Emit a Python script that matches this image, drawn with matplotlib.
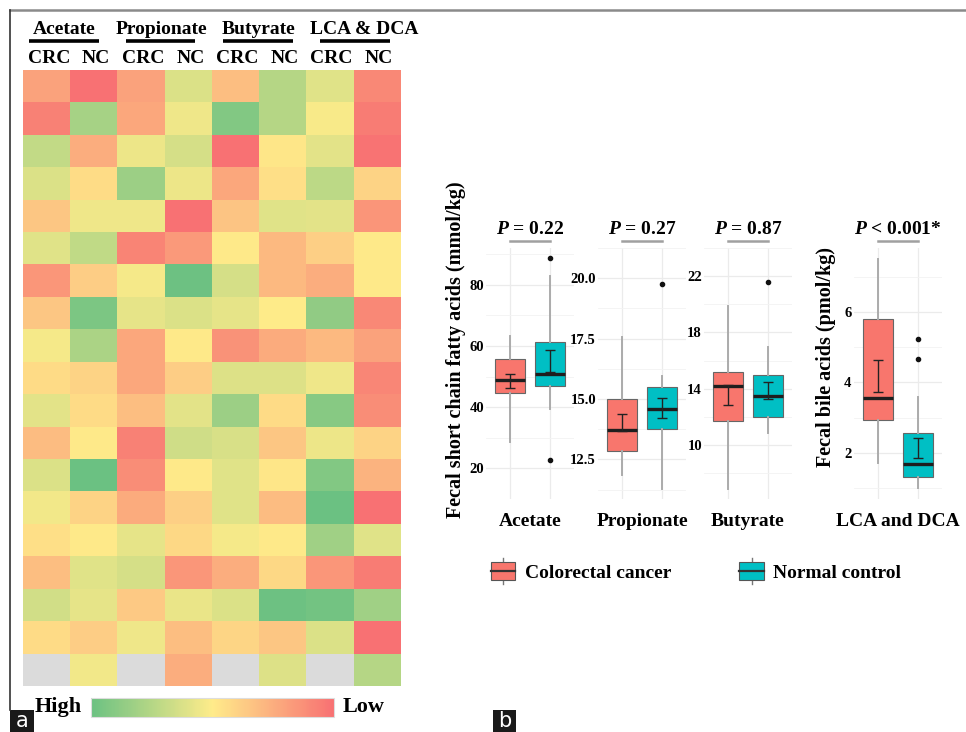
import numpy as np
import matplotlib
matplotlib.use('Agg')
import matplotlib.pyplot as plt
from matplotlib.colors import LinearSegmentedColormap
from matplotlib.lines import Line2D
from matplotlib.patches import Rectangle, Patch
from matplotlib.legend_handler import HandlerBase
from matplotlib.cm import ScalarMappable

plt.rcParams['font.family'] = 'Liberation Serif'
plt.rcParams['font.weight'] = 'bold'
plt.rcParams['mathtext.fontset'] = 'custom'
plt.rcParams['mathtext.it'] = 'Liberation Serif:italic:bold'
plt.rcParams['mathtext.rm'] = 'Liberation Serif:bold'

# ---- panel a: heatmap (0 = high / green, 1 = low / red, nan = missing)
heat_groups = ['Acetate', 'Propionate', 'Butyrate', 'LCA & DCA']
heat_cols = ['CRC', 'NC', 'CRC', 'NC', 'CRC', 'NC', 'CRC', 'NC']
nan = np.nan
heat_values = [
    [0.80, 1.00, 0.80, 0.38, 0.68, 0.25, 0.40, 0.90],
    [0.93, 0.20, 0.78, 0.45, 0.08, 0.25, 0.48, 0.95],
    [0.30, 0.75, 0.44, 0.36, 1.00, 0.52, 0.41, 0.99],
    [0.38, 0.56, 0.17, 0.44, 0.78, 0.55, 0.28, 0.60],
    [0.65, 0.45, 0.45, 1.00, 0.66, 0.40, 0.41, 0.85],
    [0.40, 0.29, 0.92, 0.83, 0.51, 0.70, 0.61, 0.51],
    [0.84, 0.62, 0.47, 0.01, 0.36, 0.70, 0.75, 0.51],
    [0.65, 0.06, 0.42, 0.38, 0.42, 0.50, 0.13, 0.90],
    [0.47, 0.22, 0.78, 0.51, 0.86, 0.76, 0.70, 0.80],
    [0.57, 0.60, 0.78, 0.62, 0.39, 0.39, 0.45, 0.91],
    [0.41, 0.57, 0.68, 0.41, 0.17, 0.57, 0.10, 0.88],
    [0.69, 0.51, 0.93, 0.34, 0.37, 0.65, 0.44, 0.60],
    [0.38, 0.00, 0.88, 0.51, 0.40, 0.52, 0.08, 0.73],
    [0.46, 0.60, 0.76, 0.61, 0.40, 0.69, 0.00, 1.00],
    [0.55, 0.51, 0.42, 0.58, 0.47, 0.51, 0.18, 0.40],
    [0.68, 0.40, 0.36, 0.84, 0.75, 0.58, 0.84, 0.95],
    [0.35, 0.42, 0.64, 0.43, 0.38, 0.01, 0.03, 0.18],
    [0.57, 0.62, 0.45, 0.68, 0.59, 0.65, 0.38, 1.00],
    [nan, 0.46, nan, 0.75, nan, 0.39, nan, 0.25],
]

# ---- panel b: box plots
acids = ['Acetate', 'Propionate', 'Butyrate', 'LCA and DCA']
p_text = ['$P$ = 0.22', '$P$ = 0.27', '$P$ = 0.87', '$P$ < 0.001*']
y_ticks = [[20, 40, 60, 80], [12.5, 15.0, 17.5, 20.0], [10, 14, 18, 22], [2, 4, 6]]
y_fmt = ['{:.0f}', '{:.1f}', '{:.0f}', '{:.0f}']
group_names = ['Colorectal cancer', 'Normal control']

crc_q1 = [44.6, 12.84, 11.7, 2.94]
crc_med = [48.8, 13.71, 14.2, 3.56]
crc_q3 = [55.8, 15.0, 15.2, 5.8]
crc_lo = [28.6, 11.87, 6.9, 1.70]
crc_hi = [63.4, 17.56, 19.85, 7.5]
crc_out = [[], [], [], []]
crc_err_lo = [46.4, 13.66, 12.82, 3.73]
crc_err_hi = [50.8, 14.38, 14.3, 4.63]

nc_q1 = [47.0, 13.76, 12.0, 1.30]
nc_med = [50.9, 14.6, 13.5, 1.67]
nc_q3 = [61.4, 15.5, 14.99, 2.55]
nc_lo = [39.5, 11.28, 10.86, 1.01]
nc_hi = [82.7, 15.97, 16.95, 3.59]
nc_out = [[22.8, 88.7], [19.74], [21.57], [4.68, 5.23]]
nc_err_lo = [51.6, 14.2, 13.29, 1.86]
nc_err_hi = [58.6, 15.02, 14.47, 2.41]

crc_color = '#F8766D'
nc_color = '#00BFC4'

W, H = 966, 732
fig = plt.figure(figsize=(W / 100, H / 100), dpi=100)


def fx(px):
    return px / W


def fy(py):
    return 1 - py / H


# heatmap
cmap = LinearSegmentedColormap.from_list('xl', ['#63BE7B', '#FFEB84', '#F8696B'])
cmap.set_bad('#D9D9D9')
axh = fig.add_axes([fx(23), fy(686), fx(400) - fx(23), fy(70) - fy(686)])
axh.imshow(np.ma.masked_invalid(np.array(heat_values)), cmap=cmap, vmin=0, vmax=1,
           aspect='auto', interpolation='nearest', alpha=0.95)
axh.set_xticks([])
axh.set_yticks([])
for s in axh.spines.values():
    s.set_visible(False)
for i, c in enumerate(heat_cols):
    axh.text(i + 0.05, -0.84, c, ha='center', va='center', fontsize=14)
line_shift = [-0.13, -0.08, -0.02, 0.04]
text_shift = [-0.13, -0.06, 0.0, 0.25]
for g, name in enumerate(heat_groups):
    xc = 2 * g + 0.5
    axh.text(xc + text_shift[g], -1.74, name, ha='center', va='center', fontsize=14)
    axh.plot([xc + line_shift[g] - 0.74, xc + line_shift[g] + 0.74], [-1.38, -1.38],
             color='black', lw=2.6, clip_on=False, solid_capstyle='butt')
axh.set_xlim(-0.5, 7.5)
axh.set_ylim(len(heat_values) - 0.5, -0.5)

# colour key
axc = fig.add_axes([fx(91), fy(717), fx(334) - fx(91), fy(698) - fy(717)])
sm = ScalarMappable(cmap=cmap)
sm.set_clim(0, 1)
cb = fig.colorbar(sm, cax=axc, orientation='horizontal')
cb.solids.set_alpha(0.95)
cb.outline.set_edgecolor('#dddddd')
cb.set_ticks([])
fig.text(fx(58), fy(707), 'High', ha='center', va='center', fontsize=16)
fig.text(fx(364), fy(707), 'Low', ha='center', va='center', fontsize=16)

# box plots
lefts = [486, 598, 704, 853.5]
for k in range(4):
    ax = fig.add_axes([fx(lefts[k]), fy(499), fx(88), fy(248) - fy(499)])
    stats = [
        dict(med=crc_med[k], q1=crc_q1[k], q3=crc_q3[k], whislo=crc_lo[k],
             whishi=crc_hi[k], fliers=crc_out[k]),
        dict(med=nc_med[k], q1=nc_q1[k], q3=nc_q3[k], whislo=nc_lo[k],
             whishi=nc_hi[k], fliers=nc_out[k]),
    ]
    bp = ax.bxp(stats, positions=[1, 2], widths=0.75, patch_artist=True, showcaps=False,
                boxprops=dict(edgecolor='#666666', linewidth=0.8),
                whiskerprops=dict(color='#ababab', linewidth=1.4),
                medianprops=dict(color='#1e1e1e', linewidth=2.4),
                flierprops=dict(marker='o', markersize=3, markerfacecolor='#111111',
                                markeredgecolor='#111111'))
    for patch, col in zip(bp['boxes'], [crc_color, nc_color]):
        patch.set_facecolor(col)
        patch.set_zorder(2)
    lo = np.array([crc_err_lo[k], nc_err_lo[k]])
    hi = np.array([crc_err_hi[k], nc_err_hi[k]])
    ax.errorbar([1, 2], (lo + hi) / 2, yerr=(hi - lo) / 2, fmt='none', ecolor='#222222',
                elinewidth=1.0, capsize=3.5, capthick=1.0, zorder=5)

    allv = [crc_lo[k], nc_lo[k], crc_hi[k], nc_hi[k]] + crc_out[k] + nc_out[k]
    vmin, vmax = min(allv), max(allv)
    pad = 0.05 * (vmax - vmin)
    ax.set_ylim(vmin - pad, vmax + pad)
    ax.set_xlim(0.4, 2.6)

    ticks = y_ticks[k]
    step = ticks[1] - ticks[0]
    ax.set_yticks(ticks)
    ax.set_yticklabels([y_fmt[k].format(t) for t in ticks])
    ax.set_yticks([t - step / 2 for t in ticks] + [ticks[-1] + step / 2], minor=True)
    ax.set_xticks([1, 2])
    ax.set_xticklabels([])
    ax.tick_params(length=0, which='both', labelsize=10.5, pad=1.5)
    ax.grid(True, which='major', color='#ebebeb', lw=0.9)
    ax.grid(True, which='minor', axis='y', color='#f3f3f3', lw=0.6)
    ax.set_axisbelow(True)
    for s in ax.spines.values():
        s.set_visible(False)

    ax.plot([1, 2], [1.028, 1.028], color='#a0a0a0', lw=1.8, clip_on=False,
            transform=ax.get_xaxis_transform())
    ax.text(1.5, 1.075, p_text[k], ha='center', va='center', fontsize=14,
            transform=ax.get_xaxis_transform())
    ax.text(1.5, -0.088, acids[k], ha='center', va='center', fontsize=14,
            transform=ax.get_xaxis_transform())

fig.text(fx(456), fy(350), 'Fecal short chain fatty acids (mmol/kg)', rotation=90,
         ha='center', va='center', fontsize=14.5)
fig.text(fx(826), fy(357), 'Fecal bile acids (pmol/kg)', rotation=90,
         ha='center', va='center', fontsize=14.5)


class BoxKey(HandlerBase):
    def create_artists(self, legend, orig, xd, yd, w, h, fontsize, trans):
        x0, y0 = -xd, -yd
        box = Rectangle((x0, y0), w, h, facecolor=orig.get_facecolor(),
                        edgecolor='#555555', lw=0.8, transform=trans)
        med = Line2D([x0, x0 + w], [y0 + h / 2] * 2, color='#333333', lw=1.6, transform=trans)
        up = Line2D([x0 + w / 2] * 2, [y0 + h, y0 + 1.25 * h], color='#777777', lw=1.0,
                    transform=trans)
        dn = Line2D([x0 + w / 2] * 2, [y0 - 0.25 * h, y0], color='#777777', lw=1.0,
                    transform=trans)
        return [up, dn, box, med]


handles = [Patch(facecolor=crc_color), Patch(facecolor=nc_color)]
fig.legend(handles, group_names, handler_map={Patch: BoxKey()}, ncol=2, loc='center left',
           bbox_to_anchor=(fx(491), fy(572)), frameon=False, handlelength=1.25,
           handleheight=1.0, handletextpad=0.5, columnspacing=3.5, borderpad=0,
           borderaxespad=0, prop=dict(family='Liberation Serif', weight='bold', size=14))

# outer frame and panel tags
fig.add_artist(Line2D([fx(10), 1], [fy(10), fy(10)], color='#8a8a8a', lw=1.8,
                      transform=fig.transFigure))
fig.add_artist(Line2D([fx(10), fx(10)], [fy(10), fy(710)], color='#333333', lw=1.2,
                      transform=fig.transFigure))
for label, x0, x1 in [('a', 10, 34), ('b', 493, 516)]:
    fig.add_artist(Rectangle((fx(x0), 0), fx(x1) - fx(x0), 22 / H, facecolor='#1a1a1a',
                             edgecolor='none', transform=fig.transFigure))
    fig.text(fx((x0 + x1) / 2), 11 / H, label, color='white', ha='center', va='center',
             fontsize=15, family='DejaVu Sans', weight='normal')

fig.savefig('out.png', dpi=100)
